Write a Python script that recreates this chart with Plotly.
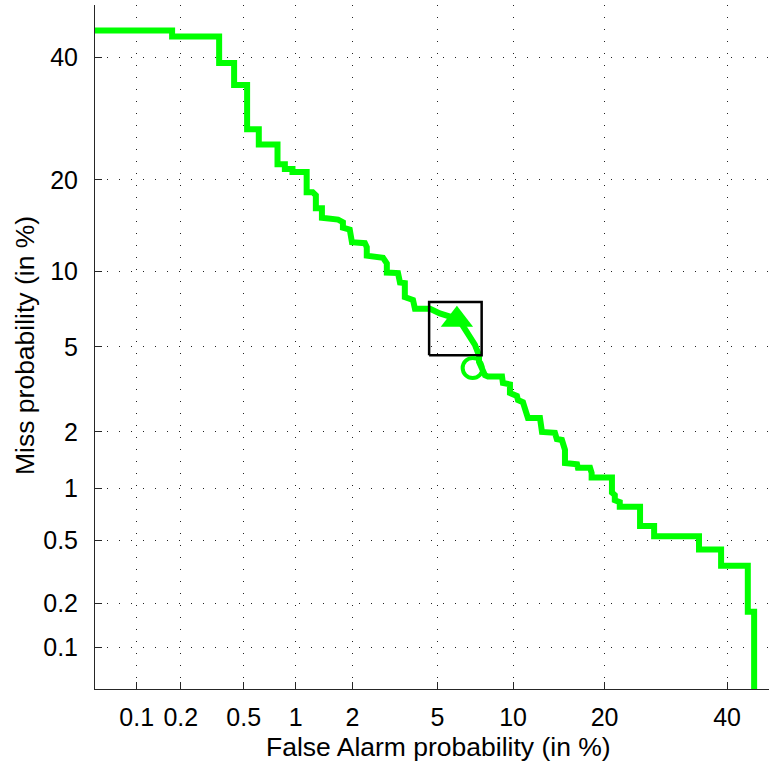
import plotly.graph_objects as go
from statistics import NormalDist

_nd = NormalDist()


def probit(p_percent):
    return _nd.inv_cdf(p_percent / 100.0)


# DET curve vertices (in %)
pfa = [0.04, 0.175, 0.175, 0.353, 0.353, 0.437, 0.437, 0.524, 0.524, 0.615, 0.615, 0.79, 0.79, 0.87,
       0.87, 0.96, 0.96, 1.15, 1.15, 1.24, 1.29, 1.29, 1.39, 1.39, 1.69, 1.79, 1.79, 1.94, 1.99, 2.31,
       2.36, 2.36, 2.83, 2.95, 2.95, 3.33, 3.40, 3.58, 3.58, 3.90, 3.98, 4.64, 5.12, 5.65, 6.22, 6.64,
       6.83, 7.15, 7.42, 7.42, 7.83, 8.04, 9.10, 9.17, 9.74, 9.74, 10.33, 10.42, 10.86, 11.22, 11.31,
       12.46, 12.66, 14.0, 14.2, 14.76, 15.1, 15.1, 16.5, 16.6, 18.1, 18.3, 18.3, 21.0, 21.0, 21.4,
       21.4, 22.1, 22.1, 25.1, 25.1, 27.3, 27.3, 34.9, 34.9, 38.9, 38.9, 43.9, 43.9, 45.1, 45.1]
pmiss = [45.1, 45.1, 44.0, 44.0, 39.0, 39.0, 35.0, 35.0, 27.5, 27.5, 25.1, 25.1, 22.2, 22.2,
         21.5, 21.5, 21.1, 21.1, 18.4, 18.4, 18.0, 16.4, 16.4, 15.3, 15.1, 14.8, 14.2, 14.0, 12.7, 12.6,
         12.2, 11.4, 11.2, 10.7, 9.9, 9.86, 9.1, 9.05, 8.0, 7.8, 7.2, 7.2, 6.9, 6.7, 6.4, 5.8,
         5.5, 5.1, 4.6, 4.3, 3.75, 3.7, 3.7, 3.45, 3.4, 3.1, 3.0, 2.87, 2.8, 2.5, 2.35,
         2.35, 2.0, 1.98, 1.84, 1.82, 1.62, 1.38, 1.36, 1.30, 1.30, 1.22, 1.15, 1.15, 0.95, 0.92,
         0.86, 0.84, 0.79, 0.79, 0.61, 0.61, 0.53, 0.53, 0.44, 0.44, 0.35, 0.35, 0.176, 0.176, 0.01]

# operating points (in %)
triangle_fa = [6.04]
triangle_miss = [6.5]
circle_fa = [7.0]
circle_miss = [4.04]

# box around the triangle point (in %)
box_fa = [4.6, 7.6]
box_miss = [4.6, 7.65]

tick_values = [0.1, 0.2, 0.5, 1, 2, 5, 10, 20, 40]
tick_labels = ["0.1", "0.2", "0.5", "1", "2", "5", "10", "20", "40"]

GREEN = "#00FF00"
AX = "#262626"
FONT = "Liberation Sans, Arial, Helvetica, sans-serif"

fig = go.Figure()
fig.add_trace(go.Scatter(
    x=[probit(v) for v in pfa], y=[probit(v) for v in pmiss],
    mode="lines", line=dict(color=GREEN, width=6), showlegend=False, hoverinfo="skip"))

bx = [box_fa[0], box_fa[1], box_fa[1], box_fa[0], box_fa[0]]
by = [box_miss[0], box_miss[0], box_miss[1], box_miss[1], box_miss[0]]
fig.add_trace(go.Scatter(
    x=[probit(v) for v in bx], y=[probit(v) for v in by],
    mode="lines", line=dict(color="black", width=2.5), showlegend=False, hoverinfo="skip"))

fig.add_trace(go.Scatter(
    x=[probit(v) for v in triangle_fa], y=[probit(v) for v in triangle_miss],
    mode="markers", marker=dict(symbol="triangle-up", size=28, color=GREEN,
                                line=dict(width=0)), showlegend=False))
fig.add_trace(go.Scatter(
    x=[probit(v) for v in circle_fa], y=[probit(v) for v in circle_miss],
    mode="markers", marker=dict(symbol="circle-open", size=20, color=GREEN,
                                line=dict(width=4, color=GREEN)), showlegend=False))

W, H = 769, 761
ML, MR, MT, MB = 95, 0, 5, 72
pw, ph = W - ML - MR, H - MT - MB

xr = [probit(0.05), probit(0.05) + pw / 208.1]
yr = [probit(0.05) + 0.0003, 0.0]

axis_common = dict(
    tickmode="array",
    tickvals=[probit(v) for v in tick_values],
    ticktext=tick_labels,
    ticks="inside", ticklen=7, tickwidth=1, tickcolor=AX,
    showline=True, linecolor=AX, linewidth=1,
    showgrid=True, gridcolor="#222222", gridwidth=1, griddash="1px,11px",
    zeroline=False, mirror=False,
    tickfont=dict(family=FONT, size=25, color="black"),
)

fig.update_layout(
    width=W, height=H,
    margin=dict(l=ML, r=MR, t=MT, b=MB, pad=0),
    paper_bgcolor="white", plot_bgcolor="white",
    xaxis=dict(range=xr, ticklabelstandoff=6, **axis_common),
    yaxis=dict(range=yr, ticklabelstandoff=11, **axis_common),
    showlegend=False,
)


def px_to_paper_x(px):
    return (px - ML) / pw


def px_to_paper_y(py):
    return (H - MB - py) / ph


fig.add_annotation(text="False Alarm probability (in %)", xref="paper", yref="paper",
                   x=px_to_paper_x(438), y=px_to_paper_y(747), xanchor="center", yanchor="middle",
                   showarrow=False, font=dict(family=FONT, size=26.5, color="black"))
fig.add_annotation(text="Miss probability (in %)", xref="paper", yref="paper",
                   x=px_to_paper_x(25), y=px_to_paper_y(346), xanchor="center", yanchor="middle",
                   textangle=-90, showarrow=False, font=dict(family=FONT, size=26.5, color="black"))

fig.write_html("out.html", config={"displayModeBar": False},
               post_script="document.body.style.margin='0px';document.body.style.overflow='hidden';")
